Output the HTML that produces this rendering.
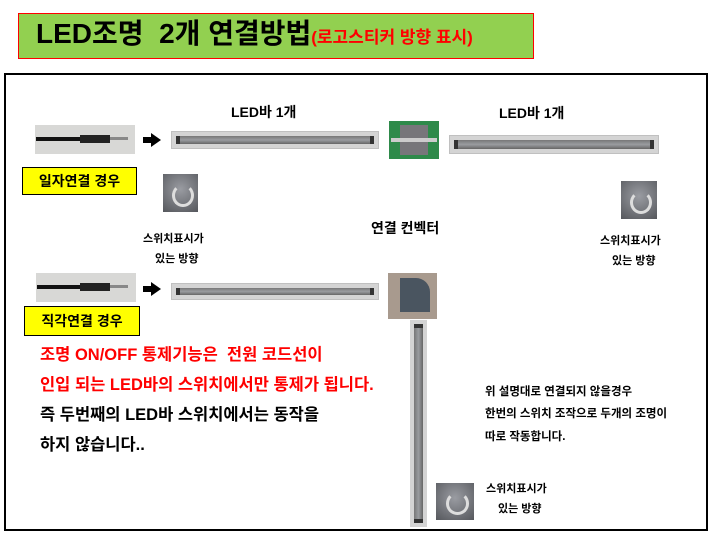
<!DOCTYPE html>
<html><head><meta charset="utf-8"><style>
body{margin:0;width:708px;height:534px;background:#fff;position:relative;overflow:hidden;font-family:"Liberation Sans","Noto Sans CJK KR",sans-serif;font-weight:bold}
.a{position:absolute}
.bar{position:absolute;background:#d4d4d4;border:1px solid #c0c0c0}
.bar:after{content:"";position:absolute;left:4px;right:4px;top:25%;height:50%;background:linear-gradient(#777,#9a9ca0 50%,#666);border-left:4px solid #333;border-right:4px solid #333}
.vbar{position:absolute;background:#d4d4d4}
.vbar:after{content:"";position:absolute;top:4px;bottom:4px;left:25%;width:50%;background:linear-gradient(90deg,#777,#9a9ca0 50%,#666);border-top:4px solid #333;border-bottom:4px solid #333}
.cable{position:absolute;background:#d8d8d6}
.sw{position:absolute;background:radial-gradient(circle at 50% 40%,#9a9ca2,#55575c);}
.sw:after{content:"";position:absolute;left:25%;top:25%;width:45%;height:45%;border:3px solid #ddd;border-radius:50%;border-top-color:transparent}
.yl{position:absolute;background:#ffff00;border:1px solid #000;font-size:14px;text-align:center;line-height:26px}
.t{position:absolute;white-space:nowrap}
.arrow{position:absolute;width:0;height:0;border-left:10px solid #000;border-top:7px solid transparent;border-bottom:7px solid transparent}
</style></head><body>
<div class="a" style="left:18px;top:13px;width:514px;height:44px;background:#92d050;border:1px solid #f00"></div>
<div class="t" style="left:36px;top:16px;font-size:28px;line-height:36px">LED조명&nbsp; 2개 연결방법<span style="color:#f00;font-size:17px">(로고스티커 방향 표시)</span></div>
<div class="a" style="left:4px;top:73px;width:700px;height:454px;border:2px solid #000"></div>

<div class="t" style="left:231px;top:102px;font-size:14px">LED바 1개</div>
<div class="t" style="left:499px;top:103px;font-size:14px">LED바 1개</div>

<div class="cable" style="left:35px;top:125px;width:100px;height:29px"></div>
<div class="a" style="left:36px;top:137px;width:45px;height:4px;background:#111"></div>
<div class="a" style="left:80px;top:135px;width:30px;height:8px;background:#222"></div>
<div class="a" style="left:110px;top:137px;width:18px;height:3px;background:#888"></div>
<div class="a" style="left:143px;top:137px;width:8px;height:6px;background:#000"></div><div class="arrow" style="left:151px;top:133px"></div>
<div class="bar" style="left:171px;top:131px;width:206px;height:16px"></div>
<div class="a" style="left:389px;top:121px;width:50px;height:38px;background:#2e8a4a"></div>
<div class="a" style="left:400px;top:125px;width:28px;height:30px;background:#77767a"></div>
<div class="a" style="left:391px;top:138px;width:46px;height:4px;background:#ccc"></div>
<div class="bar" style="left:449px;top:135px;width:208px;height:17px"></div>

<div class="yl" style="left:22px;top:167px;width:113px;height:26px">일자연결 경우</div>
<div class="sw" style="left:163px;top:174px;width:35px;height:38px"></div>
<div class="sw" style="left:621px;top:181px;width:36px;height:38px"></div>
<div class="t" style="left:143px;top:230px;font-size:11px">스위치표시가</div>
<div class="t" style="left:155px;top:250px;font-size:11px">있는 방향</div>
<div class="t" style="left:371px;top:218px;font-size:14px">연결 컨벡터</div>
<div class="t" style="left:600px;top:232px;font-size:11px">스위치표시가</div>
<div class="t" style="left:612px;top:252px;font-size:11px">있는 방향</div>

<div class="cable" style="left:36px;top:273px;width:100px;height:29px"></div>
<div class="a" style="left:37px;top:285px;width:45px;height:4px;background:#111"></div>
<div class="a" style="left:80px;top:283px;width:30px;height:8px;background:#222"></div>
<div class="a" style="left:110px;top:285px;width:18px;height:3px;background:#888"></div>
<div class="a" style="left:143px;top:286px;width:8px;height:6px;background:#000"></div><div class="arrow" style="left:151px;top:282px"></div>
<div class="bar" style="left:171px;top:283px;width:206px;height:15px"></div>
<div class="a" style="left:388px;top:273px;width:49px;height:46px;background:#a89a8e"></div>
<div class="a" style="left:400px;top:278px;width:30px;height:34px;background:#4a5560;border-radius:0 14px 0 0"></div>
<div class="vbar" style="left:410px;top:320px;width:17px;height:207px"></div>
<div class="yl" style="left:24px;top:306px;width:114px;height:28px;line-height:28px">직각연결 경우</div>

<div class="t" style="left:40px;top:344px;font-size:16.5px;color:#f00;line-height:22px">조명 ON/OFF 통제기능은&nbsp; 전원 코드선이</div>
<div class="t" style="left:40px;top:374px;font-size:16.5px;color:#f00;line-height:22px">인입 되는 LED바의 스위치에서만 통제가 됩니다.</div>
<div class="t" style="left:40px;top:404px;font-size:16.5px;line-height:22px">즉 두번째의 LED바 스위치에서는 동작을</div>
<div class="t" style="left:40px;top:434px;font-size:16.5px;line-height:22px">하지 않습니다..</div>

<div class="t" style="left:485px;top:383px;font-size:11.5px">위 설명대로 연결되지 않을경우</div>
<div class="t" style="left:485px;top:405px;font-size:11.5px">한번의 스위치 조작으로 두개의 조명이</div>
<div class="t" style="left:485px;top:428px;font-size:11.5px">따로 작동합니다.</div>

<div class="sw" style="left:436px;top:483px;width:38px;height:37px"></div>
<div class="t" style="left:486px;top:480px;font-size:11px">스위치표시가</div>
<div class="t" style="left:498px;top:500px;font-size:11px">있는 방향</div>
</body></html>
